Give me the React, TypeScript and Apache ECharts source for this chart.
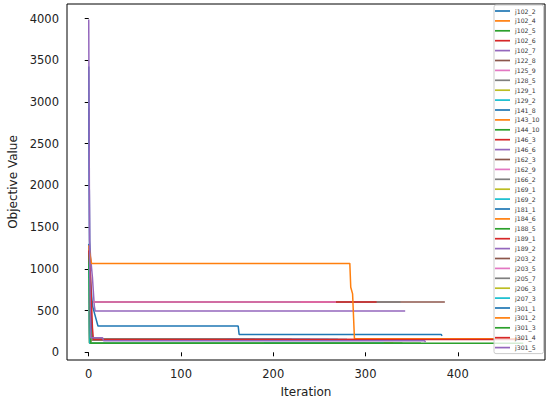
import React, { useEffect, useRef } from "react";
import * as echarts from "echarts";

const seriesNames = [
  "j102_2", "j102_4", "j102_5", "j102_6", "j102_7", "j122_8", "j125_9", "j128_5", "j129_1", "j129_2",
  "j141_8", "j143_10", "j144_10", "j146_3", "j146_6", "j162_3", "j162_9", "j166_2", "j169_1", "j169_2",
  "j181_1", "j184_6", "j188_5", "j189_1", "j189_2", "j203_2", "j203_5", "j205_7", "j206_3", "j207_3",
  "j301_1", "j301_2", "j301_3", "j301_4", "j301_5",
];

const palette = [
  "#1f77b4", "#ff7f0e", "#2ca02c", "#d62728", "#9467bd",
  "#8c564b", "#e377c2", "#7f7f7f", "#bcbd22", "#17becf",
];

const xTicks = [0, 100, 200, 300, 400];
const yTicks = [0, 500, 1000, 1500, 2000, 2500, 3000, 3500, 4000];

// [iteration, objective value] at change points
const j102_2 = [[0, 1150], [2, 480], [3, 155], [240, 155]];
const j102_4 = [[0, 1210], [1, 110], [300, 110]];
const j102_5 = [[0, 980], [2, 155], [180, 155]];
const j102_6 = [[0, 1250], [1, 700], [3, 155], [350, 155]];
const j102_7 = [[0, 1100], [2, 110], [120, 110]];
const j122_8 = [[0, 602], [150, 602]];
const j125_9 = [[0, 900], [3, 155], [260, 155]];
const j128_5 = [[0, 602], [200, 602]];
const j129_1 = [[0, 1050], [2, 155], [90, 155]];
const j129_2 = [[0, 850], [1, 110], [300, 110]];
const j141_8 = [[0, 1300], [3, 155], [280, 155]];
const j143_10 = [[0, 700], [2, 110], [330, 110]];
const j144_10 = [[0, 1180], [1, 110], [360, 110]];
const j146_3 = [[0, 950], [2, 155], [220, 155]];
const j146_6 = [[0, 1260], [2, 110], [200, 110]];
const j162_3 = [[0, 602], [386, 602]];
const j162_9 = [[0, 602], [260, 602]];
const j166_2 = [[0, 602], [338, 602]];
const j169_1 = [[0, 1120], [3, 155], [150, 155]];
const j169_2 = [[0, 780], [1, 110], [250, 110]];
const j181_1 = [[0, 1000], [4, 155], [270, 155]];
const j184_6 = [[0, 1240], [1, 110], [310, 110]];
const j188_5 = [[0, 1200], [2, 110], [340, 110]];
const j189_1 = [[0, 602], [312, 602]];
const j189_2 = [[0, 2922], [1, 1340], [2, 1140], [4, 900], [6, 560], [7, 495], [343, 495]];
const j203_2 = [[0, 602], [230, 602]];
const j203_5 = [[0, 602], [268, 602]];
const j205_7 = [[0, 1160], [2, 155], [210, 155]];
const j206_3 = [[0, 890], [2, 110], [190, 110]];
const j207_3 = [[0, 1210], [1, 110], [320, 110]];
const j301_1 = [[0, 3425], [1, 1000], [3, 700], [4, 560], [10, 315], [162, 315], [163, 215], [382, 215], [383, 198]];
const j301_2 = [[0, 1281], [1, 1200], [3, 1066], [283, 1066], [284, 780], [286, 700], [288, 164], [471, 164]];
const j301_3 = [[0, 1200], [1, 600], [2, 110], [471, 110]];
const j301_4 = [[0, 1220], [2, 900], [4, 300], [5, 155], [471, 155]];
const j301_5 = [[0, 3988], [1, 1100], [2, 176], [15, 176], [16, 140], [364, 140], [365, 122]];

const seriesData = [
  j102_2, j102_4, j102_5, j102_6, j102_7, j122_8, j125_9, j128_5, j129_1, j129_2,
  j141_8, j143_10, j144_10, j146_3, j146_6, j162_3, j162_9, j166_2, j169_1, j169_2,
  j181_1, j184_6, j188_5, j189_1, j189_2, j203_2, j203_5, j205_7, j206_3, j207_3,
  j301_1, j301_2, j301_3, j301_4, j301_5,
];

const FONT = "DejaVu Sans";

export default function App() {
  const ref = useRef<HTMLDivElement>(null);
  useEffect(() => {
    if (!ref.current) return;
    const chart = echarts.init(ref.current, undefined, { renderer: "svg" });
    chart.setOption({
      animation: false,
      backgroundColor: "#ffffff",
      textStyle: { fontFamily: FONT },
      grid: {
        left: 67,
        right: 5,
        top: 4,
        bottom: 44,
        show: true,
        borderColor: "#000000",
        borderWidth: 1,
        backgroundColor: "transparent",
        containLabel: false,
        outerBoundsMode: "none",
      },
      xAxis: {
        type: "value",
        min: -23.55,
        max: 494.55,
        name: "Iteration",
        nameLocation: "middle",
        nameGap: 26,
        nameTextStyle: { fontFamily: FONT, fontSize: 12, color: "#222" },
        axisLine: { show: false },
        splitLine: { show: false },
        axisTick: { show: true, length: 4, customValues: xTicks, lineStyle: { color: "#000", width: 1 } },
        axisLabel: {
          customValues: xTicks,
          fontFamily: FONT,
          fontSize: 11.5,
          color: "#222",
          margin: 8,
          formatter: (v: number) => String(v),
        },
      },
      yAxis: {
        type: "value",
        min: -92,
        max: 4175,
        name: "Objective Value",
        nameLocation: "middle",
        nameRotate: 90,
        nameGap: 48,
        nameTextStyle: { fontFamily: FONT, fontSize: 12, color: "#222" },
        axisLine: { show: false },
        splitLine: { show: false },
        axisTick: { show: true, length: 4, customValues: yTicks, lineStyle: { color: "#000", width: 1 } },
        axisLabel: {
          customValues: yTicks,
          fontFamily: FONT,
          fontSize: 11.5,
          color: "#222",
          margin: 8,
          formatter: (v: number) => String(v),
        },
      },
      legend: {
        orient: "vertical",
        right: 6.5,
        top: 5,
        padding: [2, 4, 2, 1],
        itemWidth: 15,
        itemHeight: 1.7,
        itemGap: 1.9,
        icon: "rect",
        backgroundColor: "rgba(255,255,255,0.8)",
        borderColor: "#cccccc",
        borderWidth: 1,
        borderRadius: 2,
        textStyle: { fontFamily: FONT, fontSize: 6.2, lineHeight: 8, color: "#333" },
        data: seriesNames,
      },
      series: seriesNames.map((name, i) => ({
        type: "line",
        name,
        data: seriesData[i],
        symbol: "none",
        showSymbol: false,
        color: palette[i % 10],
        lineStyle: { width: 1.5, color: palette[i % 10] },
        itemStyle: { color: palette[i % 10] },
      })),
    });
    return () => chart.dispose();
  }, []);
  return (
    <div
      ref={ref}
      style={{ position: "fixed", left: 0, top: 0, width: 550, height: 404 }}
    />
  );
}
